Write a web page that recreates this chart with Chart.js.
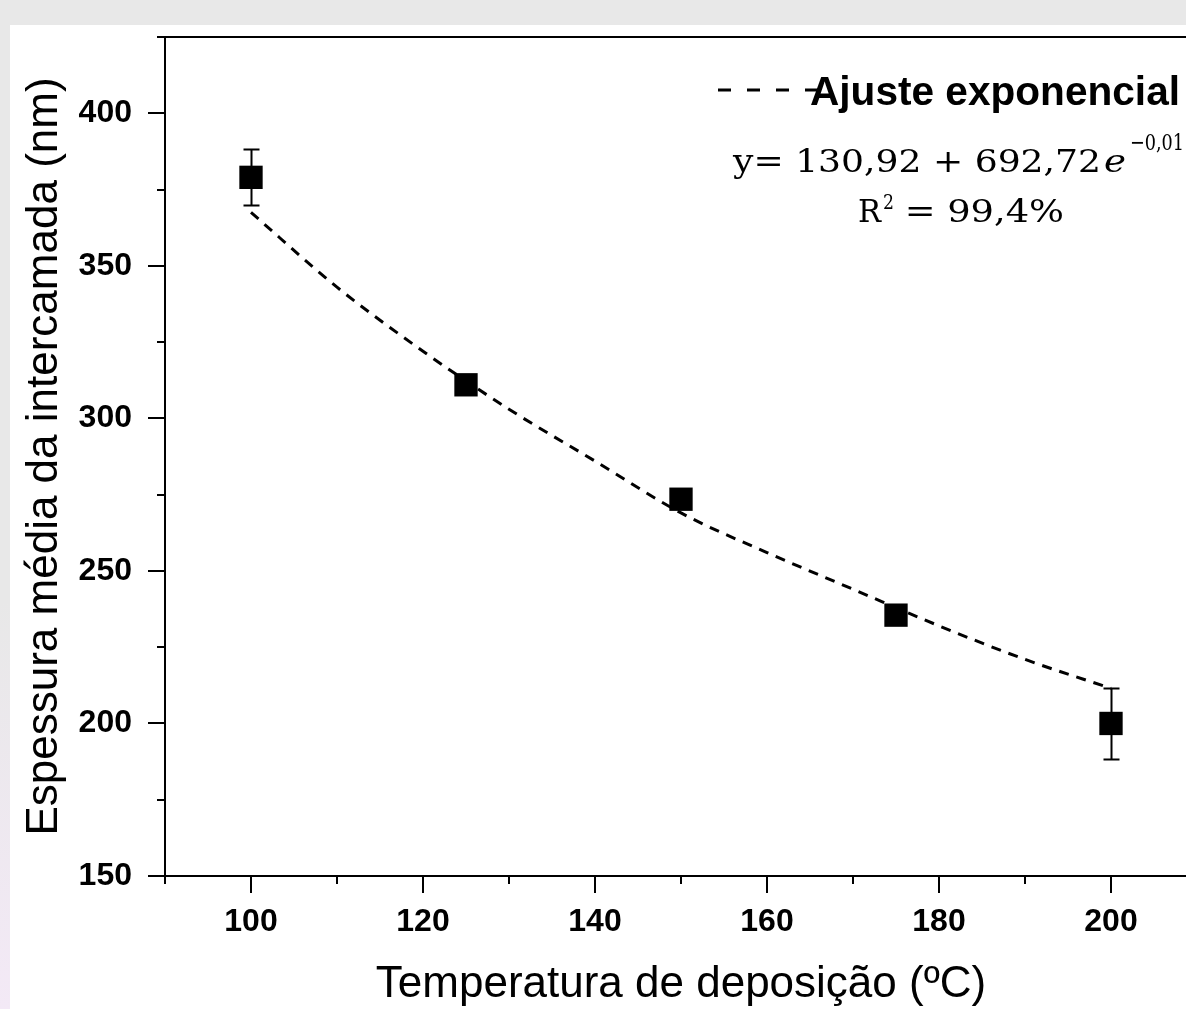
<!DOCTYPE html>
<html>
<head>
<meta charset="utf-8">
<script src="https://cdn.jsdelivr.net/npm/chart.js@4/dist/chart.umd.min.js"></script>
<style>
  html, body { margin: 0; padding: 0; width: 1186px; height: 1009px; overflow: hidden; background: #e8e8e8; }
  #strip { position: absolute; left: 0; top: 600px; width: 10px; height: 409px;
           background: linear-gradient(to bottom, #e8e8e8, #f3e9f6); }
  #panel { position: absolute; left: 10px; top: 25px; width: 1210px; height: 984px; background: #ffffff; }
  canvas { display: block; }
</style>
</head>
<body>
<div id="strip"></div>
<div id="panel"><canvas id="c" width="1200" height="984"></canvas></div>
<script>
// ---- data ----
const temperatures = [100, 125, 150, 175, 200];
const thickness    = [379, 311, 273.5, 235.5, 200];
const thicknessErr = [9.2, 3, 3, 3, 11.6];

const fitTemps  = [100, 110, 120, 130, 140, 150, 160, 170, 180, 190, 200];
const fitValues = [367.5, 343, 322, 303, 286, 269, 256, 244, 232, 221, 211.5];

const xTickLabels = [100, 120, 140, 160, 180, 200];
const yTickLabels = [150, 200, 250, 300, 350, 400];

const xTitle = 'Temperatura de deposição (ºC)';
const yTitle = 'Espessura média da intercamada (nm)';
const legendText = 'Ajuste exponencial';
const eqMain = 'y= 130,92 + 692,72';
const eqE = 'e';
const eqExp = '−0,01';
const eqR2a = 'R';
const eqR2sup = '2';
const eqR2b = ' = 99,4%';

const SANS = '"Liberation Sans", Arial, sans-serif';
const SERIF = '"DejaVu Serif", "Liberation Serif", serif';

function fitText(ctx, text, x, y, w) {
  const m = ctx.measureText(text).width;
  ctx.save();
  ctx.translate(x, y);
  ctx.scale(w / m, 1);
  ctx.fillText(text, 0, 0);
  ctx.restore();
}

const deco = {
  id: 'deco',
  afterDatasetsDraw(chart) {
    const {ctx, chartArea: ca, scales: {x, y}} = chart;
    ctx.save();
    ctx.strokeStyle = '#000';
    ctx.lineWidth = 2;
    // top frame line
    ctx.beginPath();
    ctx.moveTo(ca.left - 1, ca.top);
    ctx.lineTo(ca.right + 20, ca.top);
    ctx.stroke();
    // y ticks (outward)
    y.ticks.forEach(t => {
      const py = Math.round(y.getPixelForValue(t.value));
      const len = yTickLabels.includes(t.value) ? 17 : 8;
      ctx.beginPath(); ctx.moveTo(ca.left - len, py); ctx.lineTo(ca.left, py); ctx.stroke();
    });
    // x ticks (outward)
    x.ticks.forEach(t => {
      const px = Math.round(x.getPixelForValue(t.value));
      const len = xTickLabels.includes(t.value) ? 17 : 8;
      ctx.beginPath(); ctx.moveTo(px, ca.bottom); ctx.lineTo(px, ca.bottom + len); ctx.stroke();
    });
    // error bars
    ctx.lineWidth = 2;
    temperatures.forEach((t, i) => {
      const px = Math.round(x.getPixelForValue(t)) + 0.5;
      const yt = Math.round(y.getPixelForValue(thickness[i] + thicknessErr[i])) + 0.5;
      const yb = Math.round(y.getPixelForValue(thickness[i] - thicknessErr[i])) + 0.5;
      ctx.beginPath();
      ctx.moveTo(px, yt); ctx.lineTo(px, yb);
      ctx.moveTo(px - 8, yt); ctx.lineTo(px + 8, yt);
      ctx.moveTo(px - 8, yb); ctx.lineTo(px + 8, yb);
      ctx.stroke();
    });
    ctx.restore();
  },
  afterDraw(chart) {
    const ctx = chart.ctx;
    const ox = -10, oy = -25; // page -> canvas
    ctx.save();
    ctx.fillStyle = '#000';
    ctx.strokeStyle = '#000';
    // legend dashed sample
    ctx.lineWidth = 3;
    ctx.setLineDash([13, 16]);
    ctx.beginPath();
    ctx.moveTo(718 + ox, 90 + oy);
    ctx.lineTo(822 + ox, 90 + oy);
    ctx.stroke();
    ctx.setLineDash([]);
    // legend text
    ctx.textBaseline = 'alphabetic';
    ctx.textAlign = 'left';
    ctx.font = 'bold 40px ' + SANS;
    fitText(ctx, legendText, 810 + ox, 105 + oy, 370);
    // equation
    ctx.font = '31px ' + SERIF;
    fitText(ctx, eqMain, 733 + ox, 172 + oy, 368);
    ctx.font = 'italic 31px ' + SERIF;
    fitText(ctx, eqE, 1104 + ox, 172 + oy, 22);
    ctx.font = '23px ' + SERIF;
    fitText(ctx, eqExp, 1130 + ox, 150 + oy, 54);
    // R^2
    ctx.font = '31px ' + SERIF;
    fitText(ctx, eqR2a, 858 + ox, 222 + oy, 23);
    ctx.font = '20px ' + SERIF;
    fitText(ctx, eqR2sup, 883 + ox, 209 + oy, 11);
    ctx.font = '31px ' + SERIF;
    fitText(ctx, eqR2b, 893 + ox, 222 + oy, 171);
    ctx.restore();
  }
};

new Chart(document.getElementById('c'), {
  type: 'line',
  data: {
    datasets: [
      {
        label: legendText,
        data: fitTemps.map((t, i) => ({x: t, y: fitValues[i]})),
        borderColor: '#000',
        borderWidth: 3,
        borderDash: [10, 8],
        pointRadius: 0,
        cubicInterpolationMode: 'monotone',
        fill: false,
        order: 2
      },
      {
        label: 'Medidas',
        data: temperatures.map((t, i) => ({x: t, y: thickness[i]})),
        showLine: false,
        pointStyle: 'rect',
        pointRadius: 16.5,
        pointBackgroundColor: '#000',
        pointBorderColor: '#000',
        pointBorderWidth: 0,
        order: 1
      }
    ]
  },
  options: {
    responsive: false,
    animation: false,
    devicePixelRatio: 1,
    layout: { autoPadding: false, padding: { top: 12, right: 13, left: 0, bottom: 0 } },
    plugins: { legend: { display: false }, tooltip: { enabled: false } },
    scales: {
      x: {
        type: 'linear',
        min: 90, max: 210,
        afterFit(s) { s.height = 133; s.paddingLeft = 0; s.paddingRight = 0; },
        grid: { display: false },
        border: { display: true, color: '#000', width: 2 },
        ticks: {
          stepSize: 10,
          padding: 19,
          color: '#000',
          font: { family: SANS, size: 32, weight: 'bold' },
          callback: v => xTickLabels.includes(v) ? String(v) : ''
        },
        title: {
          display: true,
          text: xTitle,
          color: '#000',
          font: { family: SANS, size: 44, lineHeight: 1 },
          padding: { top: 0, bottom: 2 }
        }
      },
      y: {
        type: 'linear',
        min: 150, max: 425,
        afterFit(s) { s.width = 155; s.paddingTop = 0; s.paddingBottom = 0; },
        grid: { display: false },
        border: { display: true, color: '#000', width: 2 },
        ticks: {
          stepSize: 25,
          padding: 25,
          color: '#000',
          font: { family: SANS, size: 32, weight: 'bold' },
          callback: v => yTickLabels.includes(v) ? String(v) : ''
        },
        title: {
          display: true,
          text: yTitle,
          color: '#000',
          font: { family: SANS, size: 44, lineHeight: 1 },
          padding: { top: 13, bottom: 0 }
        }
      }
    }
  },
  plugins: [deco]
});
</script>
</body>
</html>
